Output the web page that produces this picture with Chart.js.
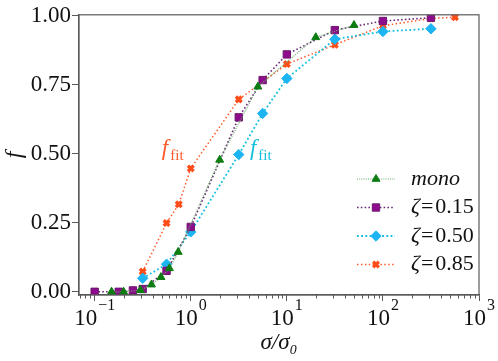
<!DOCTYPE html>
<html>
<head>
<meta charset="utf-8">
<script src="https://cdn.jsdelivr.net/npm/chart.js@4/dist/chart.umd.min.js"></script>
<style>
  html, body { margin: 0; padding: 0; background: #fff; }
  #wrap { width: 498px; height: 361px; }
</style>
</head>
<body>
<div id="wrap"><canvas id="chart"></canvas></div>
<script>
// values (sigma/sigma0 and f)
const monoX = [0.15, 0.2, 0.3, 0.39, 0.49, 0.6, 0.74, 2, 5, 20, 50];
const monoF = [0, 0, 0.006, 0.026, 0.053, 0.085, 0.144, 0.478, 0.743, 0.922, 0.966];
const z15X = [0.1, 0.178, 0.25, 0.316, 0.56, 1, 3.16, 5.6, 10, 31.6, 100, 316];
const z15F = [0, 0, 0.005, 0.01, 0.076, 0.235, 0.632, 0.767, 0.86, 0.948, 0.981, 0.993];
const z50X = [0.316, 0.56, 1, 3.16, 5.6, 10, 31.6, 100, 316];
const z50F = [0.049, 0.1, 0.217, 0.497, 0.646, 0.773, 0.915, 0.943, 0.953];
const z85X = [0.316, 0.56, 0.75, 1, 3.16, 10, 31.6, 100, 316, 562];
const z85F = [0.073, 0.249, 0.317, 0.447, 0.697, 0.825, 0.895, 0.964, 0.99, 0.995];

const xTicks = [0.1, 1, 10, 100, 1000];
const xTickExp = ['\u22121', '0', '1', '2', '3'];
const yTicks = [0, 0.25, 0.5, 0.75, 1];

const seriesNames = ['mono', '0.15', '0.50', '0.85'];

const SERIF = 'Liberation Serif';
const AXIS = '#5a5a5a';

function pts(xs, ys) {
  return xs.map((x, i) => ({ x: x, y: ys[i] }));
}

const datasets = [
  { label: seriesNames[0], data: pts(monoX, monoF), borderColor: '#6aa86a', backgroundColor: '#0d7d12',
    pointBorderColor: '#0d7d12', pointStyle: 'triangle', pointRadius: 4.6, borderWidth: 1.2, borderDash: [1, 1.2] },
  { label: seriesNames[1], data: pts(z15X, z15F), borderColor: '#6b2b78', backgroundColor: '#8e0b8e',
    pointBorderColor: '#6a1a6a', pointStyle: 'rect', pointRadius: 5.2, borderWidth: 1.6, borderDash: [1.6, 2.2] },
  { label: seriesNames[2], data: pts(z50X, z50F), borderColor: '#12c0dc', backgroundColor: '#1cb4f2',
    pointBorderColor: '#1cb4f2', pointStyle: 'rectRot', pointRadius: 5.2, borderWidth: 1.8, borderDash: [1.8, 2.4] },
  { label: seriesNames[3], data: pts(z85X, z85F), borderColor: '#ff5a2a', backgroundColor: '#ff4d1a',
    pointBorderColor: '#ff4d1a', pointStyle: 'crossRot', pointRadius: 4, pointBorderWidth: 3.4, borderWidth: 1.5, borderDash: [1.5, 2.4] }
];
datasets.forEach(d => {
  d.showLine = true;
  d.tension = 0;
  d.pointBackgroundColor = d.backgroundColor;
  if (!d.pointBorderWidth) d.pointBorderWidth = 1;
});

// frame, minor ticks, x tick labels, f_fit labels and the legend
const extras = {
  id: 'extras',
  afterDatasetsDraw(chart) {
    const ctx = chart.ctx;
    const a = chart.chartArea;
    const xs = chart.scales.x;
    const ys = chart.scales.y;
    ctx.save();

    // box
    ctx.strokeStyle = AXIS;
    ctx.lineWidth = 1.2;
    ctx.strokeRect(a.left, a.top, a.right - a.left, a.bottom - a.top);

    // minor log ticks
    ctx.lineWidth = 1;
    for (let dec = -2; dec < 3; dec++) {
      for (let m = 2; m <= 9; m++) {
        const v = m * Math.pow(10, dec);
        if (v < xs.min || v > xs.max) continue;
        const px = Math.round(xs.getPixelForValue(v)) + 0.5;
        ctx.beginPath();
        ctx.moveTo(px, a.bottom);
        ctx.lineTo(px, a.bottom + 3.5);
        ctx.stroke();
      }
    }

    // x tick labels as 10 with a raised exponent
    ctx.fillStyle = '#111';
    ctx.textBaseline = 'alphabetic';
    ctx.textAlign = 'left';
    xTicks.forEach((v, i) => {
      const px = xs.getPixelForValue(v);
      ctx.font = '23px ' + SERIF;
      const w10 = ctx.measureText('10').width;
      ctx.font = '16px ' + SERIF;
      const we = ctx.measureText(xTickExp[i]).width;
      const left = px - (w10 + we + 1) / 2;
      ctx.font = '23px ' + SERIF;
      ctx.fillText('10', left, a.bottom + 30);
      ctx.font = '16px ' + SERIF;
      ctx.fillText(xTickExp[i], left + w10 + 1, a.bottom + 15);
    });

    // f_fit labels
    function ffit(x, y, color) {
      const px = xs.getPixelForValue(x);
      const py = ys.getPixelForValue(y);
      ctx.fillStyle = color;
      ctx.textBaseline = 'alphabetic';
      ctx.textAlign = 'left';
      ctx.font = 'italic 23px ' + SERIF;
      ctx.fillText('f', px, py);
      const w = ctx.measureText('f').width;
      ctx.font = '15px ' + SERIF;
      ctx.fillText('fit', px + w + 2, py + 5);
    }
    ffit(0.5, 0.496, '#ff5a2a');
    ffit(4.13, 0.496, '#12bfdc');

    // legend
    const lx0 = 357, lx1 = 395, tx = 411;
    chart.data.datasets.forEach((d, i) => {
      const y = 179 + i * 28.5;
      ctx.strokeStyle = d.borderColor;
      ctx.lineWidth = d.borderWidth;
      ctx.setLineDash(d.borderDash);
      ctx.beginPath();
      ctx.moveTo(lx0, y);
      ctx.lineTo(lx1, y);
      ctx.stroke();
      ctx.setLineDash([]);
      ctx.fillStyle = d.pointBackgroundColor;
      ctx.strokeStyle = d.pointBorderColor;
      ctx.lineWidth = d.pointBorderWidth;
      Chart.helpers.drawPoint(ctx, { pointStyle: d.pointStyle, radius: d.pointRadius, rotation: 0, borderWidth: d.pointBorderWidth }, (lx0 + lx1) / 2, y);

      ctx.fillStyle = '#111';
      ctx.textBaseline = 'middle';
      ctx.textAlign = 'left';
      if (i === 0) {
        ctx.font = 'italic 22px ' + SERIF;
        ctx.fillText(d.label, tx, y);
      } else {
        ctx.font = 'italic 22px ' + SERIF;
        ctx.fillText('\u03B6', tx, y);
        let w = ctx.measureText('\u03B6').width;
        ctx.font = '22px ' + SERIF;
        ctx.fillText('=', tx + w + 1, y);
        w += ctx.measureText('=').width + 2;
        ctx.fillText(d.label, tx + w + 1, y);
      }
    });
    ctx.restore();
  }
};

new Chart(document.getElementById('chart'), {
  type: 'scatter',
  data: { datasets: datasets },
  options: {
    responsive: true,
    maintainAspectRatio: false,
    animation: false,
    layout: { padding: { top: 7, right: 19, left: 0, bottom: 0 } },
    plugins: { legend: { display: false }, tooltip: { enabled: false } },
    scales: {
      x: {
        type: 'logarithmic',
        min: 0.0687,
        max: 1000,
        afterBuildTicks(scale) { scale.ticks = xTicks.map(v => ({ value: v })); },
        afterFit(scale) { scale.height = 66; },
        grid: { display: true, drawOnChartArea: false, color: AXIS, tickLength: 6, tickWidth: 1 },
        border: { color: AXIS, width: 1.2 },
        ticks: { display: false },
        title: { display: true, text: '\u03C3/\u03C3\u2080', color: '#111', padding: { top: 0, bottom: 4 },
          font: { family: SERIF, size: 23, style: 'italic' } }
      },
      y: {
        min: -0.0116,
        max: 1.0035,
        afterBuildTicks(scale) { scale.ticks = yTicks.map(v => ({ value: v })); },
        afterFit(scale) { scale.width = 79; },
        grid: { display: true, drawOnChartArea: false, color: AXIS, tickLength: 7, tickWidth: 1 },
        border: { color: AXIS, width: 1.2 },
        ticks: {
          padding: 1, color: '#111',
          font: { family: SERIF, size: 23 },
          callback: (v) => v.toFixed(2)
        },
        title: { display: true, text: 'f', color: '#111', padding: { top: 0, bottom: 0 },
          font: { family: SERIF, size: 24, style: 'italic' } }
      }
    }
  },
  plugins: [extras]
});
</script>
</body>
</html>
